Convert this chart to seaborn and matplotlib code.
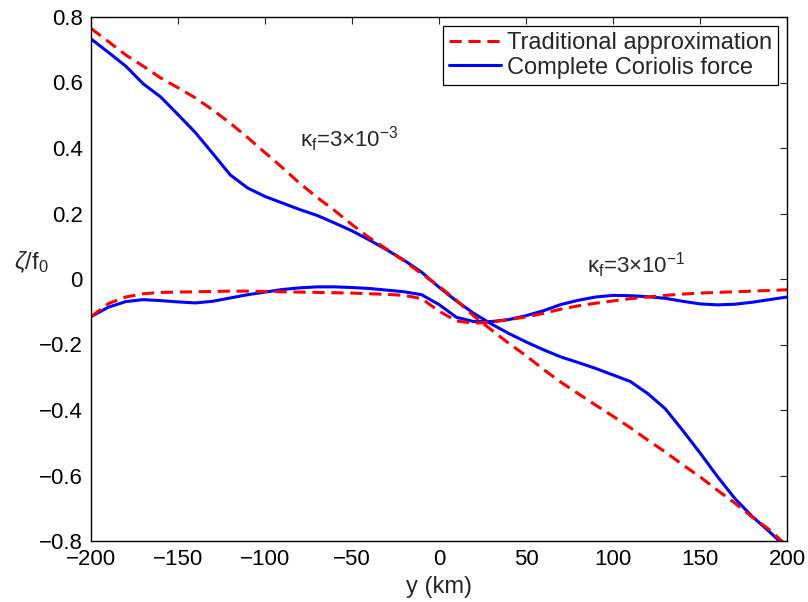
import matplotlib
matplotlib.use("Agg")
import matplotlib.pyplot as plt
import seaborn as sns

# Cross-channel position (km)
y_km = list(range(-200, 201, 10))

# Relative vorticity zeta/f0, kappa_f = 3e-3
trad_k3 = [0.765, 0.725, 0.684, 0.650, 0.614, 0.584, 0.553, 0.516, 0.476, 0.432,
           0.386, 0.340, 0.292, 0.249, 0.209, 0.166, 0.126, 0.091, 0.055, 0.016,
           -0.022, -0.065, -0.113, -0.155, -0.196, -0.234, -0.276, -0.315, -0.350, -0.385,
           -0.419, -0.454, -0.492, -0.528, -0.567, -0.604, -0.645, -0.684, -0.727, -0.766,
           -0.815]
full_k3 = [0.733, 0.692, 0.650, 0.596, 0.556, 0.502, 0.447, 0.383, 0.318, 0.278,
           0.252, 0.232, 0.212, 0.194, 0.171, 0.147, 0.119, 0.089, 0.057, 0.021,
           -0.025, -0.067, -0.105, -0.137, -0.166, -0.192, -0.216, -0.238, -0.255, -0.273,
           -0.293, -0.313, -0.350, -0.396, -0.462, -0.531, -0.603, -0.670, -0.725, -0.772,
           -0.822]

# Relative vorticity zeta/f0, kappa_f = 3e-1
trad_k1 = [-0.115, -0.075, -0.055, -0.045, -0.041, -0.040, -0.039, -0.038, -0.037, -0.037,
           -0.038, -0.039, -0.040, -0.041, -0.042, -0.043, -0.045, -0.047, -0.050, -0.060,
           -0.098, -0.128, -0.135, -0.132, -0.124, -0.116, -0.105, -0.092, -0.082, -0.074,
           -0.067, -0.060, -0.055, -0.050, -0.046, -0.043, -0.041, -0.039, -0.037, -0.035,
           -0.033]
full_k1 = [-0.115, -0.086, -0.069, -0.063, -0.066, -0.070, -0.073, -0.068, -0.058, -0.048,
           -0.040, -0.032, -0.027, -0.024, -0.024, -0.026, -0.029, -0.034, -0.039, -0.048,
           -0.078, -0.117, -0.130, -0.130, -0.124, -0.112, -0.097, -0.078, -0.065, -0.055,
           -0.050, -0.051, -0.054, -0.059, -0.068, -0.076, -0.079, -0.077, -0.071, -0.063,
           -0.055]

x_ticks = [-200, -150, -100, -50, 0, 50, 100, 150, 200]
x_tick_labels = ["\u2212200", "\u2212150", "\u2212100", "\u221250", "0", "50", "100", "150", "200"]
y_ticks = [-0.8, -0.6, -0.4, -0.2, 0.0, 0.2, 0.4, 0.6, 0.8]
y_tick_labels = ["\u22120.8", "\u22120.6", "\u22120.4", "\u22120.2", "0", "0.2", "0.4", "0.6", "0.8"]

lab_trad = "Traditional approximation"
lab_full = "Complete Coriolis force"

sns.set_style("white")
plt.rcParams["font.family"] = ["Liberation Sans", "DejaVu Sans"]
plt.rcParams["mathtext.fontset"] = "custom"
plt.rcParams["mathtext.rm"] = "Liberation Sans"
plt.rcParams["mathtext.it"] = "Liberation Sans:italic"
plt.rcParams["mathtext.bf"] = "Liberation Sans:bold"
plt.rcParams["mathtext.default"] = "regular"

fig = plt.figure(figsize=(8.08, 6.02), dpi=100)
ax = fig.add_axes([91 / 808, 61 / 602, 696 / 808, 524 / 602])

lw = 2.2
dash = (0, (4.0, 2.2))
solid_kw = dict(color="#0000ff", lw=lw, solid_joinstyle="round", solid_capstyle="round")
dash_kw = dict(color="#ff0000", lw=lw, linestyle=dash, dash_joinstyle="round")
sns.lineplot(x=y_km, y=full_k3, ax=ax, label=lab_full, **solid_kw)
sns.lineplot(x=y_km, y=full_k1, ax=ax, **solid_kw)
sns.lineplot(x=y_km, y=trad_k3, ax=ax, label=lab_trad, **dash_kw)
sns.lineplot(x=y_km, y=trad_k1, ax=ax, **dash_kw)

ax.set_xlim(-200, 200)
ax.set_ylim(-0.8, 0.8)
ax.set_xticks(x_ticks)
ax.set_xticklabels(x_tick_labels)
ax.set_yticks(y_ticks)
ax.set_yticklabels(y_tick_labels)
ax.tick_params(direction="in", length=5, width=0.8, color="#222222",
               top=True, right=True, labelsize=16, pad=6, labelcolor="black")
for sp in ax.spines.values():
    sp.set_visible(True)
    sp.set_color("black")
    sp.set_linewidth(1.0)

ax.set_xlabel("y (km)", fontsize=17)
ax.xaxis.set_label_coords(0.5, -0.066)
ax.set_ylabel(r"$\mathit{\zeta}$/f$_0$", fontsize=17, rotation=0, ha="center", va="center")
ax.yaxis.set_label_coords(-0.086, 0.532)

ax.text(-80, 0.403, r"$\kappa_f$=3×10$^{-3}$", fontsize=16, ha="left", va="baseline")
ax.text(85, 0.018, r"$\kappa_f$=3×10$^{-1}$", fontsize=16, ha="left", va="baseline")

handles, labels = ax.get_legend_handles_labels()
order = [labels.index(lab_trad), labels.index(lab_full)]
leg = ax.legend([handles[i] for i in order], [labels[i] for i in order],
                loc="upper right", fontsize=17, frameon=True, fancybox=False,
                framealpha=1, edgecolor="black", handlelength=2.2,
                handletextpad=0.25, labelspacing=0.1, borderpad=0.25,
                borderaxespad=0.4)
leg.get_frame().set_linewidth(0.9)

fig.savefig("out.png", dpi=100)
